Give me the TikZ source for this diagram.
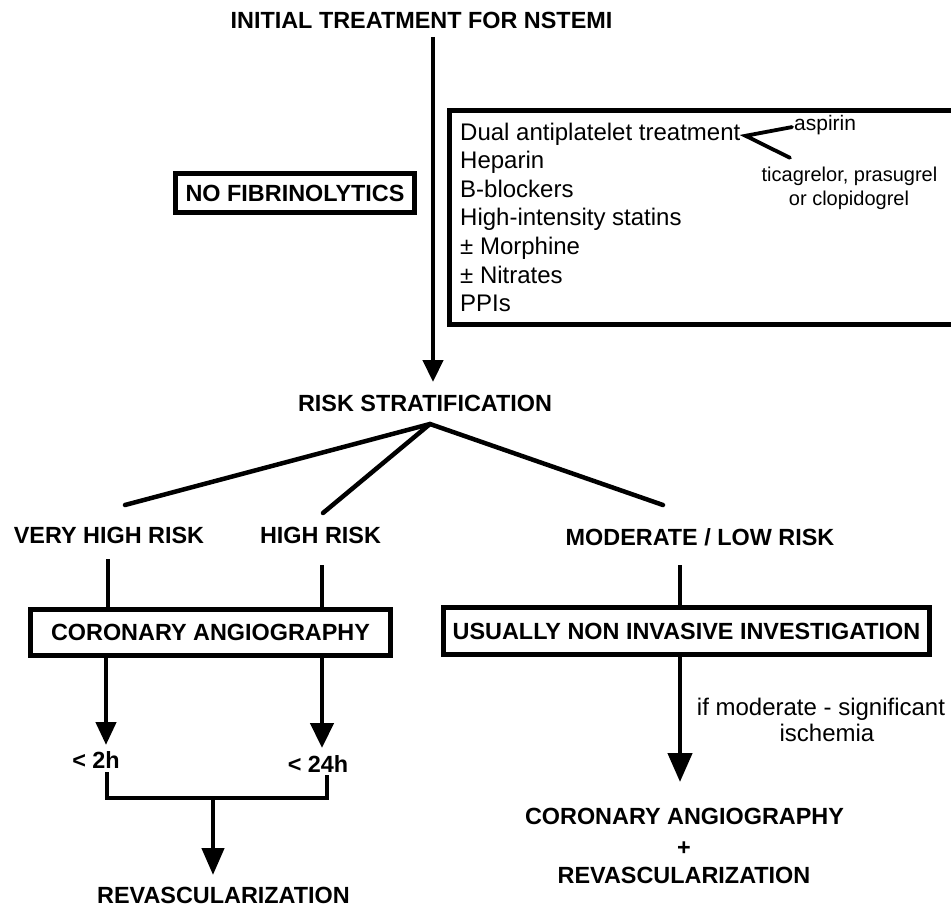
\documentclass[tikz,border=0pt]{standalone}
\usepackage{fontspec}
\setmainfont{Liberation Sans}
\usetikzlibrary{arrows.meta}
\newcommand\blf{\fontsize{23.4}{28}\selectfont\bfseries}
\newcommand\rgf{\fontsize{24}{28.5}\selectfont}
\newcommand\asf{\fontsize{21}{24}\selectfont}
\newcommand\smf{\fontsize{20}{23}\selectfont}
\begin{document}
\begin{tikzpicture}[x=1pt,y=-1pt,
  bl/.style={font=\blf, inner sep=0pt, anchor=base},
  rg/.style={font=\rgf, inner sep=0pt, anchor=base west},
  boxed/.style={draw, line width=5pt, inner sep=0pt, font=\blf},
  ln/.style={line width=4.5pt},
  arr/.style 2 args={line width=4.5pt, -{Triangle[length=#1, width=#2]}}
]
\useasboundingbox (0,0) rectangle (951,907);

% title and main arrow
\node[bl] (title) at (421.5,28.4) {INITIAL TREATMENT FOR NSTEMI};
\node[bl] (risk) at (425,411.4) {RISK STRATIFICATION};
\draw[arr={22pt}{20pt}] ([xshift=11.5pt,yshift=-8.6pt]title.base) -- ([xshift=8pt,yshift=29.4pt]risk.base);

% no fibrinolytics
\node[boxed, minimum width=239pt, minimum height=39pt] (nofib) at (295,193) {NO FIBRINOLYTICS};

% treatment box (runs off the right edge)
\draw[line width=5pt] (956,110.5) -- (449.5,110.5) -- (449.5,324.5) -- (956,324.5);
\node[rg] (t1) at (460,140.6) {Dual antiplatelet treatment};
\node[rg] (t2) at (460,168.6) {Heparin};
\node[rg] (t3) at (460,197.6) {B-blockers};
\node[rg] (t4) at (460,225.6) {High-intensity statins};
\node[rg] (t5) at (460,254.6) {± Morphine};
\node[rg] (t6) at (460,283.6) {± Nitrates};
\node[rg] (t7) at (460,311.6) {PPIs};
\node[font=\asf, inner sep=0pt, anchor=base west] (asp) at (794,130.5) {aspirin};
\node[font=\smf, inner sep=0pt, anchor=base] (tic1) at (849.5,181.5) {ticagrelor, prasugrel};
\node[font=\smf, inner sep=0pt, anchor=base] (tic2) at (849,205) {or clopidogrel};
\coordinate (fk) at ([xshift=5pt,yshift=-1.4pt]t1.east);
\draw[line width=3.8pt, line cap=round, line join=miter] ([xshift=-2pt,yshift=-2pt]asp.west) -- (fk) -- ([xshift=-59.5pt,yshift=9pt]tic1.north);

% risk branches
\coordinate (apex) at ([xshift=5pt,yshift=-12.6pt]risk.base);
\node[bl] (vhr) at (109,543.4) {VERY HIGH RISK};
\node[bl] (hr) at (320.5,543.4) {HIGH RISK};
\node[bl] (mod) at (700,545.4) {MODERATE / LOW RISK};
\draw[ln, line cap=round] (apex) -- ([xshift=16pt,yshift=38.4pt]vhr.base);
\draw[ln, line cap=round] (apex) -- ([xshift=2.5pt,yshift=30.4pt]hr.base);
\draw[ln, line cap=round] (apex) -- ([xshift=-37pt,yshift=40.4pt]mod.base);

% boxes
\node[boxed, minimum width=360pt, minimum height=46pt] (corbox) at (210.5,632.5) {CORONARY ANGIOGRAPHY};
\node[boxed, minimum width=486pt, minimum height=47pt] (nonbox) at (686.5,631) {USUALLY NON INVASIVE INVESTIGATION};
\draw[ln] ([xshift=-1pt,yshift=-15.6pt]vhr.base) -- ([xshift=-102.5pt]corbox.north);
\draw[ln] ([xshift=1.5pt,yshift=-21.6pt]hr.base) -- ([xshift=111.5pt]corbox.north);
\draw[ln] ([xshift=-20pt,yshift=-19.6pt]mod.base) -- ([xshift=-6.5pt]nonbox.north);

% left branch
\node[bl] (lt2h) at (96,768.4) {< 2h};
\node[bl] (lt24h) at (318,772.4) {< 24h};
\node[bl] (rev) at (223.5,903.4) {REVASCULARIZATION};
\draw[arr={23pt}{20pt}] ([xshift=-104.5pt]corbox.south) -- ([xshift=10pt,yshift=23.4pt]lt2h.base);
\draw[arr={25pt}{23pt}] ([xshift=111.5pt]corbox.south) -- ([xshift=4pt,yshift=24.4pt]lt24h.base);
\draw[ln] ([xshift=11pt,yshift=-3.6pt]lt2h.base) |- ([xshift=9pt,yshift=-25.6pt]lt24h.base) -- ([xshift=9pt,yshift=-2.6pt]lt24h.base);
\coordinate (bj) at ([xshift=117pt,yshift=-29.6pt]lt2h.base);
\draw[arr={27pt}{22pt}] (bj) -- ([xshift=-10.5pt,yshift=28.4pt]rev.base);

% right branch
\node[font=\rgf, inner sep=0pt, anchor=base] (ifm) at (821,715) {if moderate - significant};
\node[font=\rgf, inner sep=0pt, anchor=base] (isch) at (827,741) {ischemia};
\node[bl] (rca) at (684.5,824) {CORONARY ANGIOGRAPHY};
\node[bl] (rplus) at (684,855) {+};
\node[bl] (rrev) at (684,883) {REVASCULARIZATION};
\draw[arr={29pt}{24pt}] ([xshift=-6.5pt]nonbox.south) -- ([xshift=-4.5pt,yshift=42pt]rca.base);
\end{tikzpicture}
\end{document}
